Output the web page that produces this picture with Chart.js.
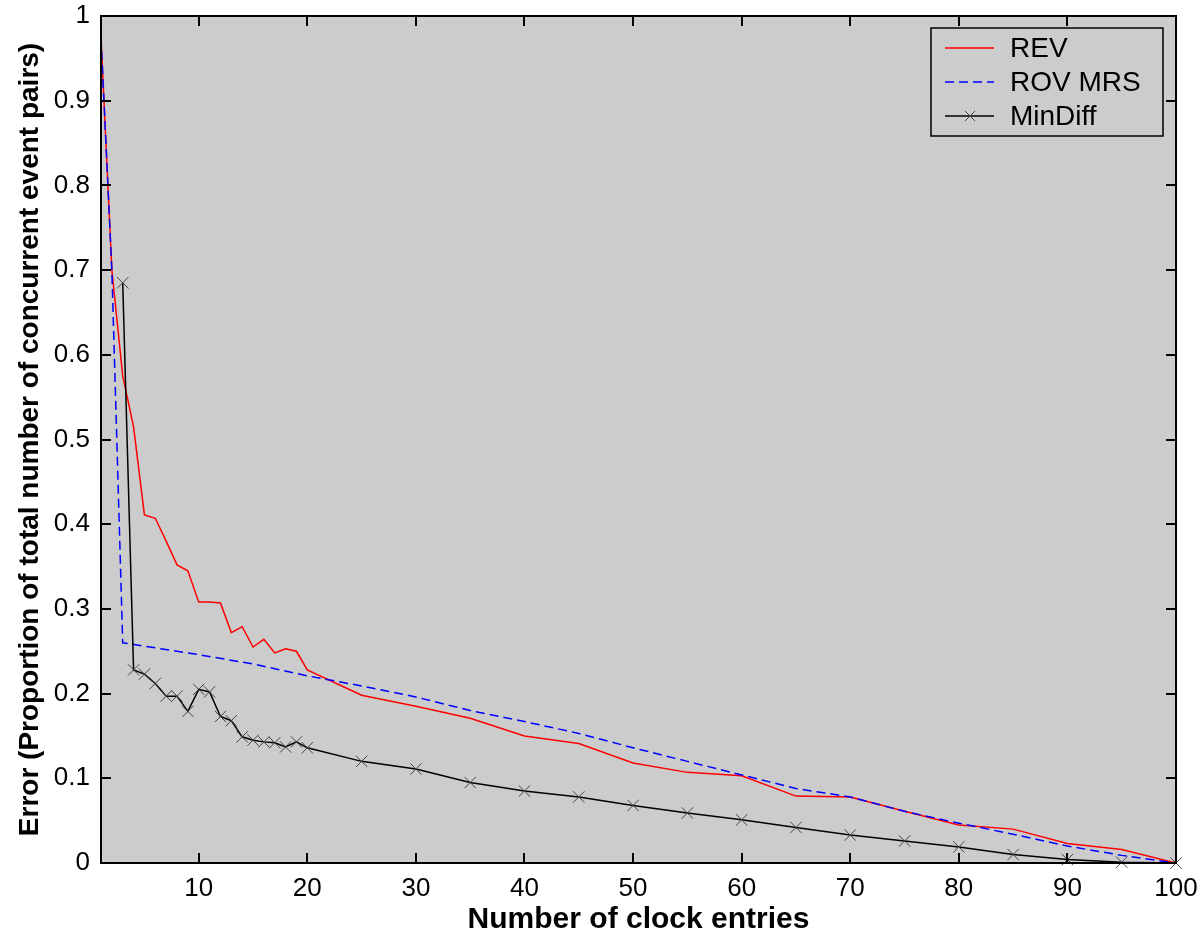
<!DOCTYPE html>
<html>
<head>
<meta charset="utf-8">
<script src="https://cdn.jsdelivr.net/npm/chart.js@4"></script>
<style>
	html, body { margin: 0; padding: 0; background: #fff; }
	canvas { display: block; }
</style>
</head>
<body>
<canvas id="chart" width="1203" height="937"></canvas>
<script>
// data
var revX = [ 1, 2, 3, 4, 5, 6, 7, 8, 9, 10, 11, 12, 13, 14, 15, 16, 17, 18, 19, 20, 25, 30, 35, 40, 45, 50, 55, 60, 65, 70, 75, 80, 85, 90, 95, 100 ];
var revY = [ 0.975, 0.70, 0.575, 0.515, 0.411, 0.407, 0.38, 0.352, 0.345, 0.308, 0.308, 0.307, 0.272, 0.279, 0.255, 0.264, 0.248, 0.253, 0.250, 0.228, 0.198, 0.185, 0.171, 0.150, 0.141, 0.118, 0.107, 0.103, 0.079, 0.078, 0.061, 0.045, 0.040, 0.023, 0.016, 0 ];

var rovX = [ 1, 2, 3, 5, 10, 15, 20, 25, 30, 35, 40, 45, 50, 55, 60, 65, 70, 75, 80, 85, 90, 95, 100 ];
var rovY = [ 0.975, 0.70, 0.26, 0.256, 0.246, 0.235, 0.221, 0.209, 0.196, 0.180, 0.167, 0.153, 0.136, 0.120, 0.104, 0.088, 0.078, 0.061, 0.047, 0.034, 0.020, 0.009, 0 ];

var minDiffX = [ 3, 4, 5, 6, 7, 8, 9, 10, 11, 12, 13, 14, 15, 16, 17, 18, 19, 20, 25, 30, 35, 40, 45, 50, 55, 60, 65, 70, 75, 80, 85, 90, 95, 100 ];
var minDiffY = [ 0.685, 0.228, 0.223, 0.212, 0.197, 0.197, 0.179, 0.205, 0.202, 0.173, 0.168, 0.149, 0.145, 0.143, 0.142, 0.137, 0.143, 0.136, 0.120, 0.111, 0.095, 0.085, 0.078, 0.068, 0.059, 0.051, 0.042, 0.033, 0.026, 0.019, 0.010, 0.004, 0.001, 0 ];

var xTicks = [ 10, 20, 30, 40, 50, 60, 70, 80, 90, 100 ];
var yTicks = [ 0, 0.1, 0.2, 0.3, 0.4, 0.5, 0.6, 0.7, 0.8, 0.9, 1 ];

var seriesNames = [ 'REV', 'ROV MRS', 'MinDiff' ];
var xTitle = 'Number of clock entries';
var yTitle = 'Error (Proportion of total number of concurrent event pairs)';

var FONT = "'Liberation Sans', Arial, Helvetica, sans-serif";

function toPoints( xs, ys ) {
	return xs.map( function( x, i ) {
		return { x: x, y: ys[i] };
	} );
}

/**
 * Gray plot area, box frame, inward ticks and the legend.
 */
var framePlugin = {
	id: 'frame',
	beforeDraw: function( chart ) {
		var a = chart.chartArea;
		var ctx = chart.ctx;

		ctx.save();
		ctx.fillStyle = '#cccccc';
		ctx.fillRect( a.left, a.top, a.right - a.left, a.bottom - a.top );
		ctx.restore();
	},
	afterDraw: function( chart ) {
		var a = chart.chartArea;
		var ctx = chart.ctx;
		var xs = chart.scales.x;
		var ys = chart.scales.y;
		var len = 10;

		ctx.save();
		ctx.strokeStyle = '#000';
		ctx.lineWidth = 2;
		ctx.lineCap = 'butt';

		// ticks
		ctx.beginPath();
		xTicks.forEach( function( v ) {
			var px = Math.round( xs.getPixelForValue( v ) );
			ctx.moveTo( px, a.bottom );
			ctx.lineTo( px, a.bottom - len );
			ctx.moveTo( px, a.top );
			ctx.lineTo( px, a.top + len );
		} );
		yTicks.forEach( function( v ) {
			var py = Math.round( ys.getPixelForValue( v ) );
			ctx.moveTo( a.left, py );
			ctx.lineTo( a.left + len, py );
			ctx.moveTo( a.right, py );
			ctx.lineTo( a.right - len, py );
		} );
		ctx.stroke();

		// frame
		ctx.strokeRect( a.left, a.top, a.right - a.left, a.bottom - a.top );

		// legend
		var lx = a.right - 245, ly = a.top + 12, lw = 232, lh = 108;
		ctx.fillStyle = '#cccccc';
		ctx.fillRect( lx, ly, lw, lh );
		ctx.lineWidth = 1.5;
		ctx.strokeRect( lx, ly, lw, lh );

		ctx.font = '28px ' + FONT;
		ctx.textBaseline = 'middle';
		ctx.textAlign = 'left';

		chart.data.datasets.forEach( function( ds, i ) {
			var ry = ly + 20 + i * 34;

			ctx.save();
			ctx.strokeStyle = ds.borderColor;
			ctx.lineWidth = 1.5;
			ctx.setLineDash( ds.borderDash || [] );
			ctx.beginPath();
			ctx.moveTo( lx + 14, ry );
			ctx.lineTo( lx + 63, ry );
			ctx.stroke();
			ctx.restore();

			if ( ds.pointRadius > 0 ) {
				ctx.save();
				ctx.strokeStyle = '#444';
				ctx.lineWidth = 1;
				ctx.beginPath();
				ctx.moveTo( lx + 34, ry - 5 );
				ctx.lineTo( lx + 44, ry + 5 );
				ctx.moveTo( lx + 44, ry - 5 );
				ctx.lineTo( lx + 34, ry + 5 );
				ctx.stroke();
				ctx.restore();
			}

			ctx.fillStyle = '#000';
			ctx.fillText( ds.label, lx + 79, ry + 1 );
		} );

		ctx.restore();
	}
};

var config = {
	type: 'line',
	data: {
		datasets: [
			{
				label: seriesNames[0],
				data: toPoints( revX, revY ),
				borderColor: '#ff0000',
				borderWidth: 1.5,
				pointRadius: 0,
				tension: 0,
				order: 2
			},
			{
				label: seriesNames[1],
				data: toPoints( rovX, rovY ),
				borderColor: '#0000ff',
				borderWidth: 1.5,
				borderDash: [ 9, 5 ],
				pointRadius: 0,
				tension: 0,
				order: 1
			},
			{
				label: seriesNames[2],
				data: toPoints( minDiffX, minDiffY ),
				borderColor: '#000000',
				borderWidth: 1.5,
				pointStyle: 'crossRot',
				pointRadius: 8,
				pointBorderWidth: 1,
				pointBorderColor: '#444444',
				tension: 0,
				clip: 10,
				order: 0
			}
		]
	},
	options: {
		responsive: false,
		animation: false,
		events: [],
		layout: {
			padding: { top: 16, right: 27, left: 0, bottom: 0 }
		},
		plugins: {
			legend: { display: false },
			tooltip: { enabled: false },
			title: { display: false }
		},
		scales: {
			x: {
				type: 'linear',
				min: 1,
				max: 100,
				afterBuildTicks: function( scale ) {
					scale.ticks = xTicks.map( function( v ) { return { value: v }; } );
				},
				afterFit: function( scale ) {
					scale.height = 74;
					scale.paddingLeft = 0;
					scale.paddingRight = 0;
				},
				grid: { display: false, drawTicks: false },
				border: { display: false },
				ticks: {
					color: '#000',
					padding: 10,
					maxRotation: 0,
					font: { family: FONT, size: 26 },
					callback: function( v ) { return String( v ); }
				},
				title: {
					display: true,
					text: xTitle,
					color: '#000',
					padding: { top: 0, bottom: 2 },
					font: { family: FONT, size: 30, weight: 'bold', lineHeight: 1 }
				}
			},
			y: {
				type: 'linear',
				min: 0,
				max: 1,
				afterBuildTicks: function( scale ) {
					scale.ticks = yTicks.map( function( v ) { return { value: v }; } );
				},
				afterFit: function( scale ) {
					scale.width = 101;
					scale.paddingTop = 0;
					scale.paddingBottom = 0;
				},
				grid: { display: false, drawTicks: false },
				border: { display: false },
				ticks: {
					color: '#000',
					padding: 11,
					font: { family: FONT, size: 26 },
					callback: function( v ) { return String( Math.round( v * 10 ) / 10 ); }
				},
				title: {
					display: true,
					text: yTitle,
					color: '#000',
					padding: { top: 16, bottom: 0 },
					font: { family: FONT, size: 28, weight: 'bold', lineHeight: 1 }
				}
			}
		}
	},
	plugins: [ framePlugin ]
};

window.errorChart = new Chart( document.getElementById( 'chart' ).getContext( '2d' ), config );
</script>
</body>
</html>
